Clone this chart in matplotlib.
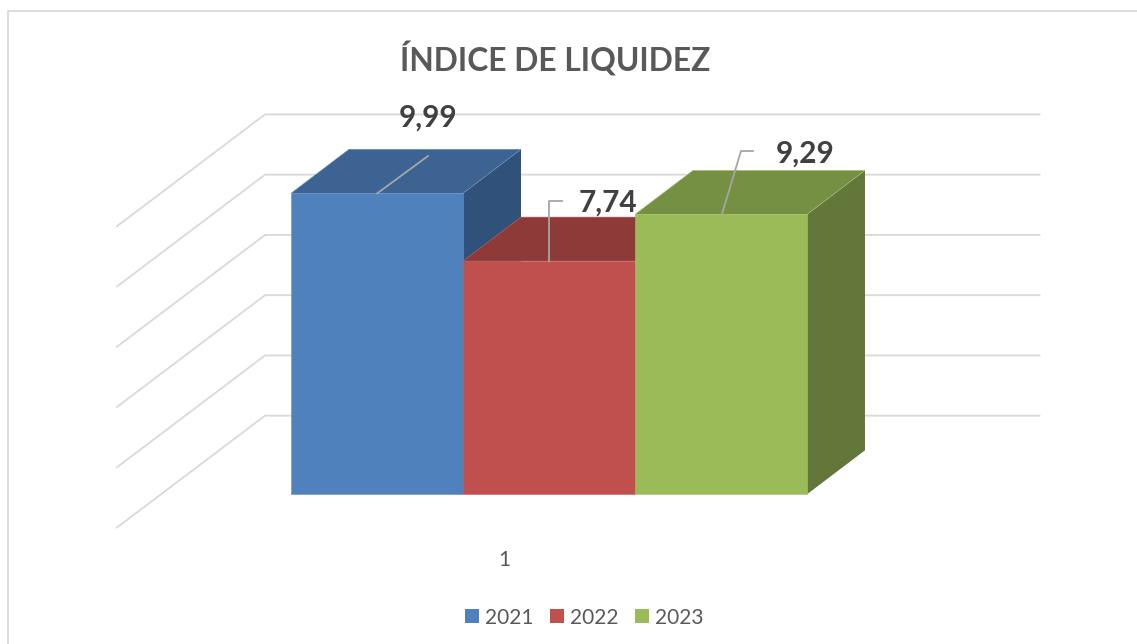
import matplotlib
matplotlib.use("Agg")
import matplotlib.pyplot as plt
from matplotlib.patches import Patch

plt.rcParams['font.family'] = ['Lato', 'DejaVu Sans']

years = ['2021', '2022', '2023']
values = [9.99, 7.74, 9.29]
value_labels = ['9,99', '7,74', '9,29']
grid_values = [0, 2, 4, 6, 8, 10]
front_colors = ['#4F81BD', '#C0504D', '#9BBB59']
top_colors = ['#3D6392', '#8E3A39', '#758F43']
side_colors = ['#30527A', '#8E3A39', '#63773A']
edge_colors = ['#6A90C4', '#C8625F', '#A6C36E']

W, H = 1137, 644
# one x unit is a bar width, one y unit is one value unit on the front face
PX_X = 172.0
PX_Y = 30.13
X0_PX = 291.0
Y0_PX = 494.3

def px(x, y):
    return (x - X0_PX) / PX_X, (Y0_PX - y) / PX_Y

fig = plt.figure(figsize=(W / 100, H / 100), dpi=100)
ax = fig.add_axes([0, 0, 1, 1])
ax.set_xlim(px(0, 0)[0], px(W, 0)[0])
ax.set_ylim(px(0, H)[1], px(0, 0)[1])
ax.set_axis_off()

# chart frame, only top and left show in the crop
ax.plot(*zip(px(7.5, H), px(7.5, 10.5), px(W, 10.5)), color='#D9D9D9', lw=1.3, zorder=1)

# depth of the bars
dx = 58 / PX_X
dy = 44 / PX_Y

# gridlines on the side wall and back wall
wall_x = px(265, 0)[0]
tip_x = px(117, 0)[0]
right_x = px(1039.5, 0)[0]
wall_base = px(0, 415.7)[1]
tip_base = px(0, 527.5)[1]
for v in grid_values:
    ax.plot([tip_x, wall_x, right_x], [tip_base + v, wall_base + v, wall_base + v],
            color='#D9D9D9', lw=1.3, zorder=1, solid_joinstyle='miter')

# bars, left to right so the next one covers the previous one
for i, v in enumerate(values):
    z = 2 + i
    ax.fill([i + 1, i + 1 + dx, i + 1 + dx, i + 1], [0, dy, v + dy, v],
            color=side_colors[i], lw=0, zorder=z)
    ax.fill([i, i + dx, i + 1 + dx, i + 1], [v, v + dy, v + dy, v],
            facecolor=top_colors[i], edgecolor=edge_colors[i], lw=0.4, zorder=z)
    ax.bar(i + 0.5, v, width=1, color=front_colors[i], edgecolor=edge_colors[i], lw=0.4, zorder=z)

# leader lines of the data labels
ax.plot(*zip(px(377, 193.5), px(428, 156)), color='#A6A6A6', lw=1.3, zorder=8)
ax.plot(*zip(px(549, 261), px(549, 201), px(562, 201)), color='#A6A6A6', lw=1.3, zorder=8)
ax.plot(*zip(px(722, 214), px(741, 151), px(753, 151)), color='#A6A6A6', lw=1.3, zorder=8)

label_pos = [(428, 117.5), (608, 202.5), (805, 153.5)]
for (x, y), s in zip(label_pos, value_labels):
    ax.text(*px(x, y), s, fontsize=21.5, fontweight='bold', color='#404040',
            ha='center', va='center', zorder=9)

ax.text(*px(555.5, 59.5), 'ÍNDICE DE LIQUIDEZ', fontsize=22.9, fontweight='bold',
        color='#595959', ha='center', va='center')
ax.text(*px(504.5, 560), '1', fontsize=15, color='#595959', ha='center', va='center')

handles = [Patch(facecolor=c, edgecolor='none') for c in front_colors]
ax.legend(handles, years, ncol=3, loc='center', bbox_to_anchor=(584 / W, 1 - 617.5 / H),
          bbox_transform=fig.transFigure, frameon=False, fontsize=15, labelcolor='#595959',
          handlelength=0.67, handleheight=0.67, handletextpad=0.29, columnspacing=0.8)

fig.savefig('out.png', dpi=100)
